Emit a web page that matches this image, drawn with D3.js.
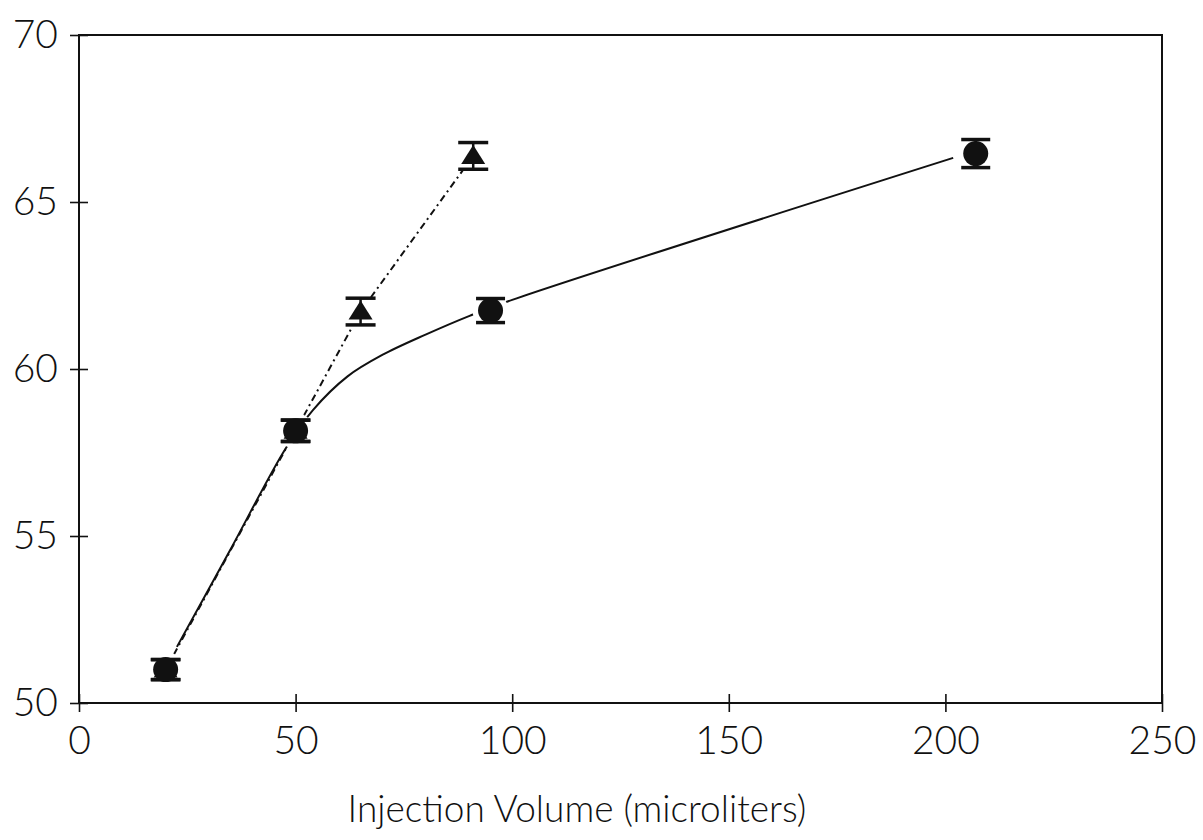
<!DOCTYPE html>
<html>
<head>
<meta charset="utf-8">
<script src="https://cdn.jsdelivr.net/npm/d3@7"></script>
<style>
  body { margin: 0; background: #fff; }
  text { font-family: Lato, "DejaVu Sans", sans-serif; font-weight: 300; fill: #111; }
</style>
</head>
<body>
<svg id="chart" width="1203" height="840"></svg>
<script>
// circles: measured points with error bars
const circleX = [20, 50, 95, 207];
const circleY = [51.0, 58.15, 61.75, 66.45];
const circleErr = [0.3, 0.32, 0.36, 0.42];

// triangles: second series, joined by dash-dot line
const triX = [20, 50, 65, 91];
const triY = [51.0, 58.15, 61.72, 66.38];
const triErr = [0.3, 0.32, 0.4, 0.4];

// smooth fitted curve through the circle series
const fitX = [22.6, 34.9, 47.6, 54.0, 62.0, 70.0, 80.0, 90.3, 100.0, 201.8];
const fitY = [51.68, 54.58, 57.6, 58.77, 59.78, 60.42, 61.03, 61.6, 62.07, 66.32];

const xTicks = [0, 50, 100, 150, 200, 250];
const yTicks = [50, 55, 60, 65, 70];
const xTitle = "Injection Volume (microliters)";

const svg = d3.select("#chart");
const margin = { top: 35, right: 41, bottom: 137, left: 79 };
const width = +svg.attr("width") - margin.left - margin.right;
const height = +svg.attr("height") - margin.top - margin.bottom;

const g = svg.append("g")
  .attr("transform", `translate(${margin.left},${margin.top})`);

const x = d3.scaleLinear().domain([0, 250]).range([0, width]);
const y = d3.scaleLinear().domain([50, 70]).range([height, 0]);

// frame
g.append("rect")
  .attr("x", 0).attr("y", 0)
  .attr("width", width).attr("height", height)
  .attr("fill", "none")
  .attr("stroke", "#111")
  .attr("stroke-width", 2);

// axes, ticks cross the frame line
const xAxis = g.append("g")
  .attr("transform", `translate(0,${height})`)
  .call(d3.axisBottom(x).tickValues(xTicks).tickSize(9).tickFormat(d3.format("d")));
xAxis.select(".domain").remove();
xAxis.selectAll(".tick line").attr("y1", -9).attr("y2", 9)
  .attr("stroke", "#111").attr("stroke-width", 1.6);
xAxis.selectAll(".tick text")
  .attr("y", 51).attr("dy", 0)
  .attr("font-size", 39);

const yAxis = g.append("g")
  .call(d3.axisLeft(y).tickValues(yTicks).tickSize(9).tickFormat(d3.format("d")));
yAxis.select(".domain").remove();
yAxis.selectAll(".tick line").attr("x1", 9).attr("x2", -9)
  .attr("stroke", "#111").attr("stroke-width", 1.6);
yAxis.selectAll(".tick text")
  .attr("x", -21).attr("dy", "0.33em")
  .attr("font-size", 39);
g.selectAll(".tick text").attr("fill", "#111").attr("font-family", null);

svg.append("text")
  .attr("x", 577)
  .attr("y", 822)
  .attr("text-anchor", "middle")
  .attr("font-size", 37)
  .text(xTitle);

// lines
const line = d3.line().x(d => x(d[0])).y(d => y(d[1]));

g.append("path")
  .datum(fitX.map((v, i) => [v, fitY[i]]))
  .attr("fill", "none")
  .attr("stroke", "#111")
  .attr("stroke-width", 2)
  .attr("d", line.curve(d3.curveCatmullRom));

g.append("path")
  .datum(triX.map((v, i) => [v, triY[i]]))
  .attr("fill", "none")
  .attr("stroke", "#111")
  .attr("stroke-width", 2)
  .attr("stroke-dasharray", "7,4,2,4")
  .attr("d", line.curve(d3.curveLinear));

const triData = triX.map((v, i) => ({ x: v, y: triY[i], e: triErr[i] }));
const circData = circleX.map((v, i) => ({ x: v, y: circleY[i], e: circleErr[i] }));

// white halos keep lines clear of the markers
g.selectAll("circle.halo")
  .data(triData.slice(2).concat(circData))
  .join("circle")
  .attr("class", "halo")
  .attr("cx", d => x(d.x)).attr("cy", d => y(d.y))
  .attr("r", 18)
  .attr("fill", "#fff");

function errorBars(data, capW) {
  const eb = g.append("g");
  data.forEach(d => {
    const cx = x(d.x);
    eb.append("line")
      .attr("x1", cx).attr("x2", cx)
      .attr("y1", y(d.y + d.e)).attr("y2", y(d.y - d.e))
      .attr("stroke", "#111").attr("stroke-width", 2.5);
    [d.y + d.e, d.y - d.e].forEach(v => {
      eb.append("line")
        .attr("x1", cx - capW / 2).attr("x2", cx + capW / 2)
        .attr("y1", y(v)).attr("y2", y(v))
        .attr("stroke", "#111").attr("stroke-width", 3.5);
    });
  });
}

errorBars(triData, 30);
g.selectAll("path.tri")
  .data(triData)
  .join("path")
  .attr("class", "tri")
  .attr("transform", d => `translate(${x(d.x)},${y(d.y)})`)
  .attr("d", "M0,-11L12,8L-12,8Z")
  .attr("fill", "#111");

errorBars(circData, 29);
g.selectAll("circle.pt")
  .data(circData)
  .join("circle")
  .attr("class", "pt")
  .attr("cx", d => x(d.x)).attr("cy", d => y(d.y))
  .attr("r", 12.5)
  .attr("fill", "#111");
</script>
</body>
</html>
